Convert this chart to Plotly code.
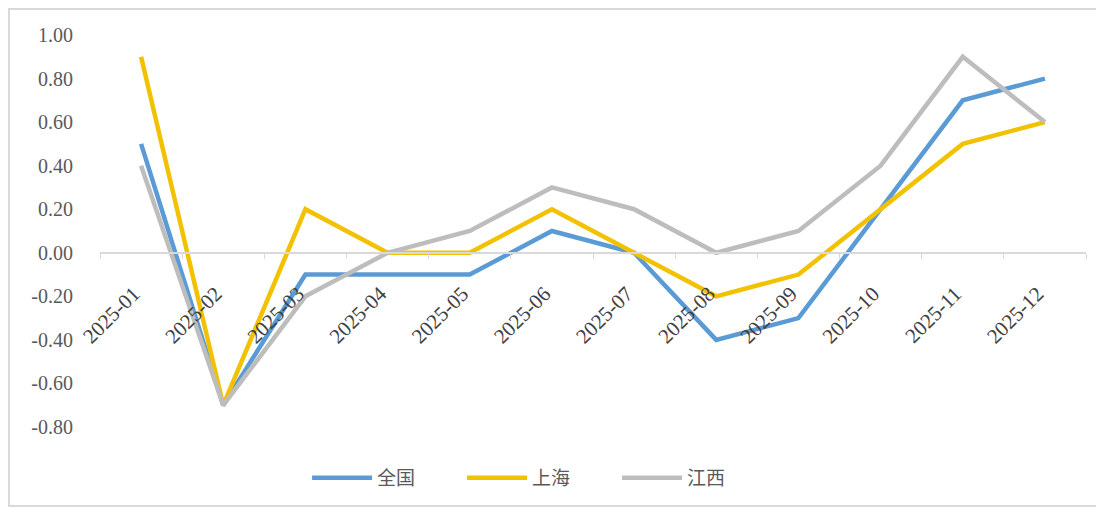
import plotly.graph_objects as go

months = ["2025-01", "2025-02", "2025-03", "2025-04", "2025-05", "2025-06",
          "2025-07", "2025-08", "2025-09", "2025-10", "2025-11", "2025-12"]
quanguo = [0.5, -0.7, -0.1, -0.1, -0.1, 0.1, 0.0, -0.4, -0.3, 0.2, 0.7, 0.8]
shanghai = [0.9, -0.7, 0.2, 0.0, 0.0, 0.2, 0.0, -0.2, -0.1, 0.2, 0.5, 0.6]
jiangxi = [0.4, -0.7, -0.2, 0.0, 0.1, 0.3, 0.2, 0.0, 0.1, 0.4, 0.9, 0.6]
y_ticks = [-0.8, -0.6, -0.4, -0.2, 0.0, 0.2, 0.4, 0.6, 0.8, 1.0]
y_tick_text = ["-0.80", "-0.60", "-0.40", "-0.20", "0.00", "0.20", "0.40", "0.60", "0.80", "1.00"]

series = [("全国", quanguo, "#5B9BD5"), ("上海", shanghai, "#F2C200"), ("江西", jiangxi, "#BDBDBD")]

fig = go.Figure()
for name, vals, color in series:
    fig.add_trace(go.Scatter(x=months, y=vals, name=name, mode="lines",
                             line=dict(color=color, width=4.5)))

ymin, ymax = -0.8, 1.0
serif = "Liberation Serif, Times New Roman, serif"
# page offset of 8px (body margin) compensated in margins
L, T = 92, 27
PW, PH = 986, 392
fig.update_layout(
    width=1104, height=509,
    margin=dict(l=L, r=1104 - L - PW, t=T, b=509 - T - PH),
    paper_bgcolor="white", plot_bgcolor="white",
    font=dict(family=serif, color="#595959", size=18),
    showlegend=True,
    legend=dict(orientation="h", x=0.21, xanchor="left", y=-0.13, yanchor="middle",
                font=dict(size=19, color="#595959", family="Noto Sans CJK SC"),
                itemwidth=60, entrywidth=80, entrywidthmode="pixels", tracegroupgap=0),
    xaxis=dict(type="category", range=[-0.5, 11.5], anchor="free",
               position=(0 - ymin) / (ymax - ymin),
               tickvals=months, ticktext=[m + "\u00a0\u00a0" for m in months],
               showline=True, linecolor="#D9D9D9", linewidth=2,
               ticks="outside", tickson="boundaries", ticklen=5, tickcolor="#D9D9D9",
               tickangle=-45, showgrid=False, zeroline=False, ticklabelstandoff=12,
               tickfont=dict(size=21, color="#404040", family=serif)),
    yaxis=dict(range=[ymin, ymax], tickvals=y_ticks, ticktext=y_tick_text,
               showgrid=False, zeroline=False, showline=False, ticks="",
               ticklabelstandoff=26,
               tickfont=dict(size=20, color="#595959", family=serif)),
    shapes=[dict(type="rect", xref="paper", yref="paper",
                 x0=-L / PW + 0.001, x1=1.05, y0=(427 - 506) / PH, y1=(427 - 9) / PH,
                 line=dict(color="#D9D9D9", width=2), fillcolor="rgba(0,0,0,0)", layer="below")],
)

fig.write_html("out.html")
